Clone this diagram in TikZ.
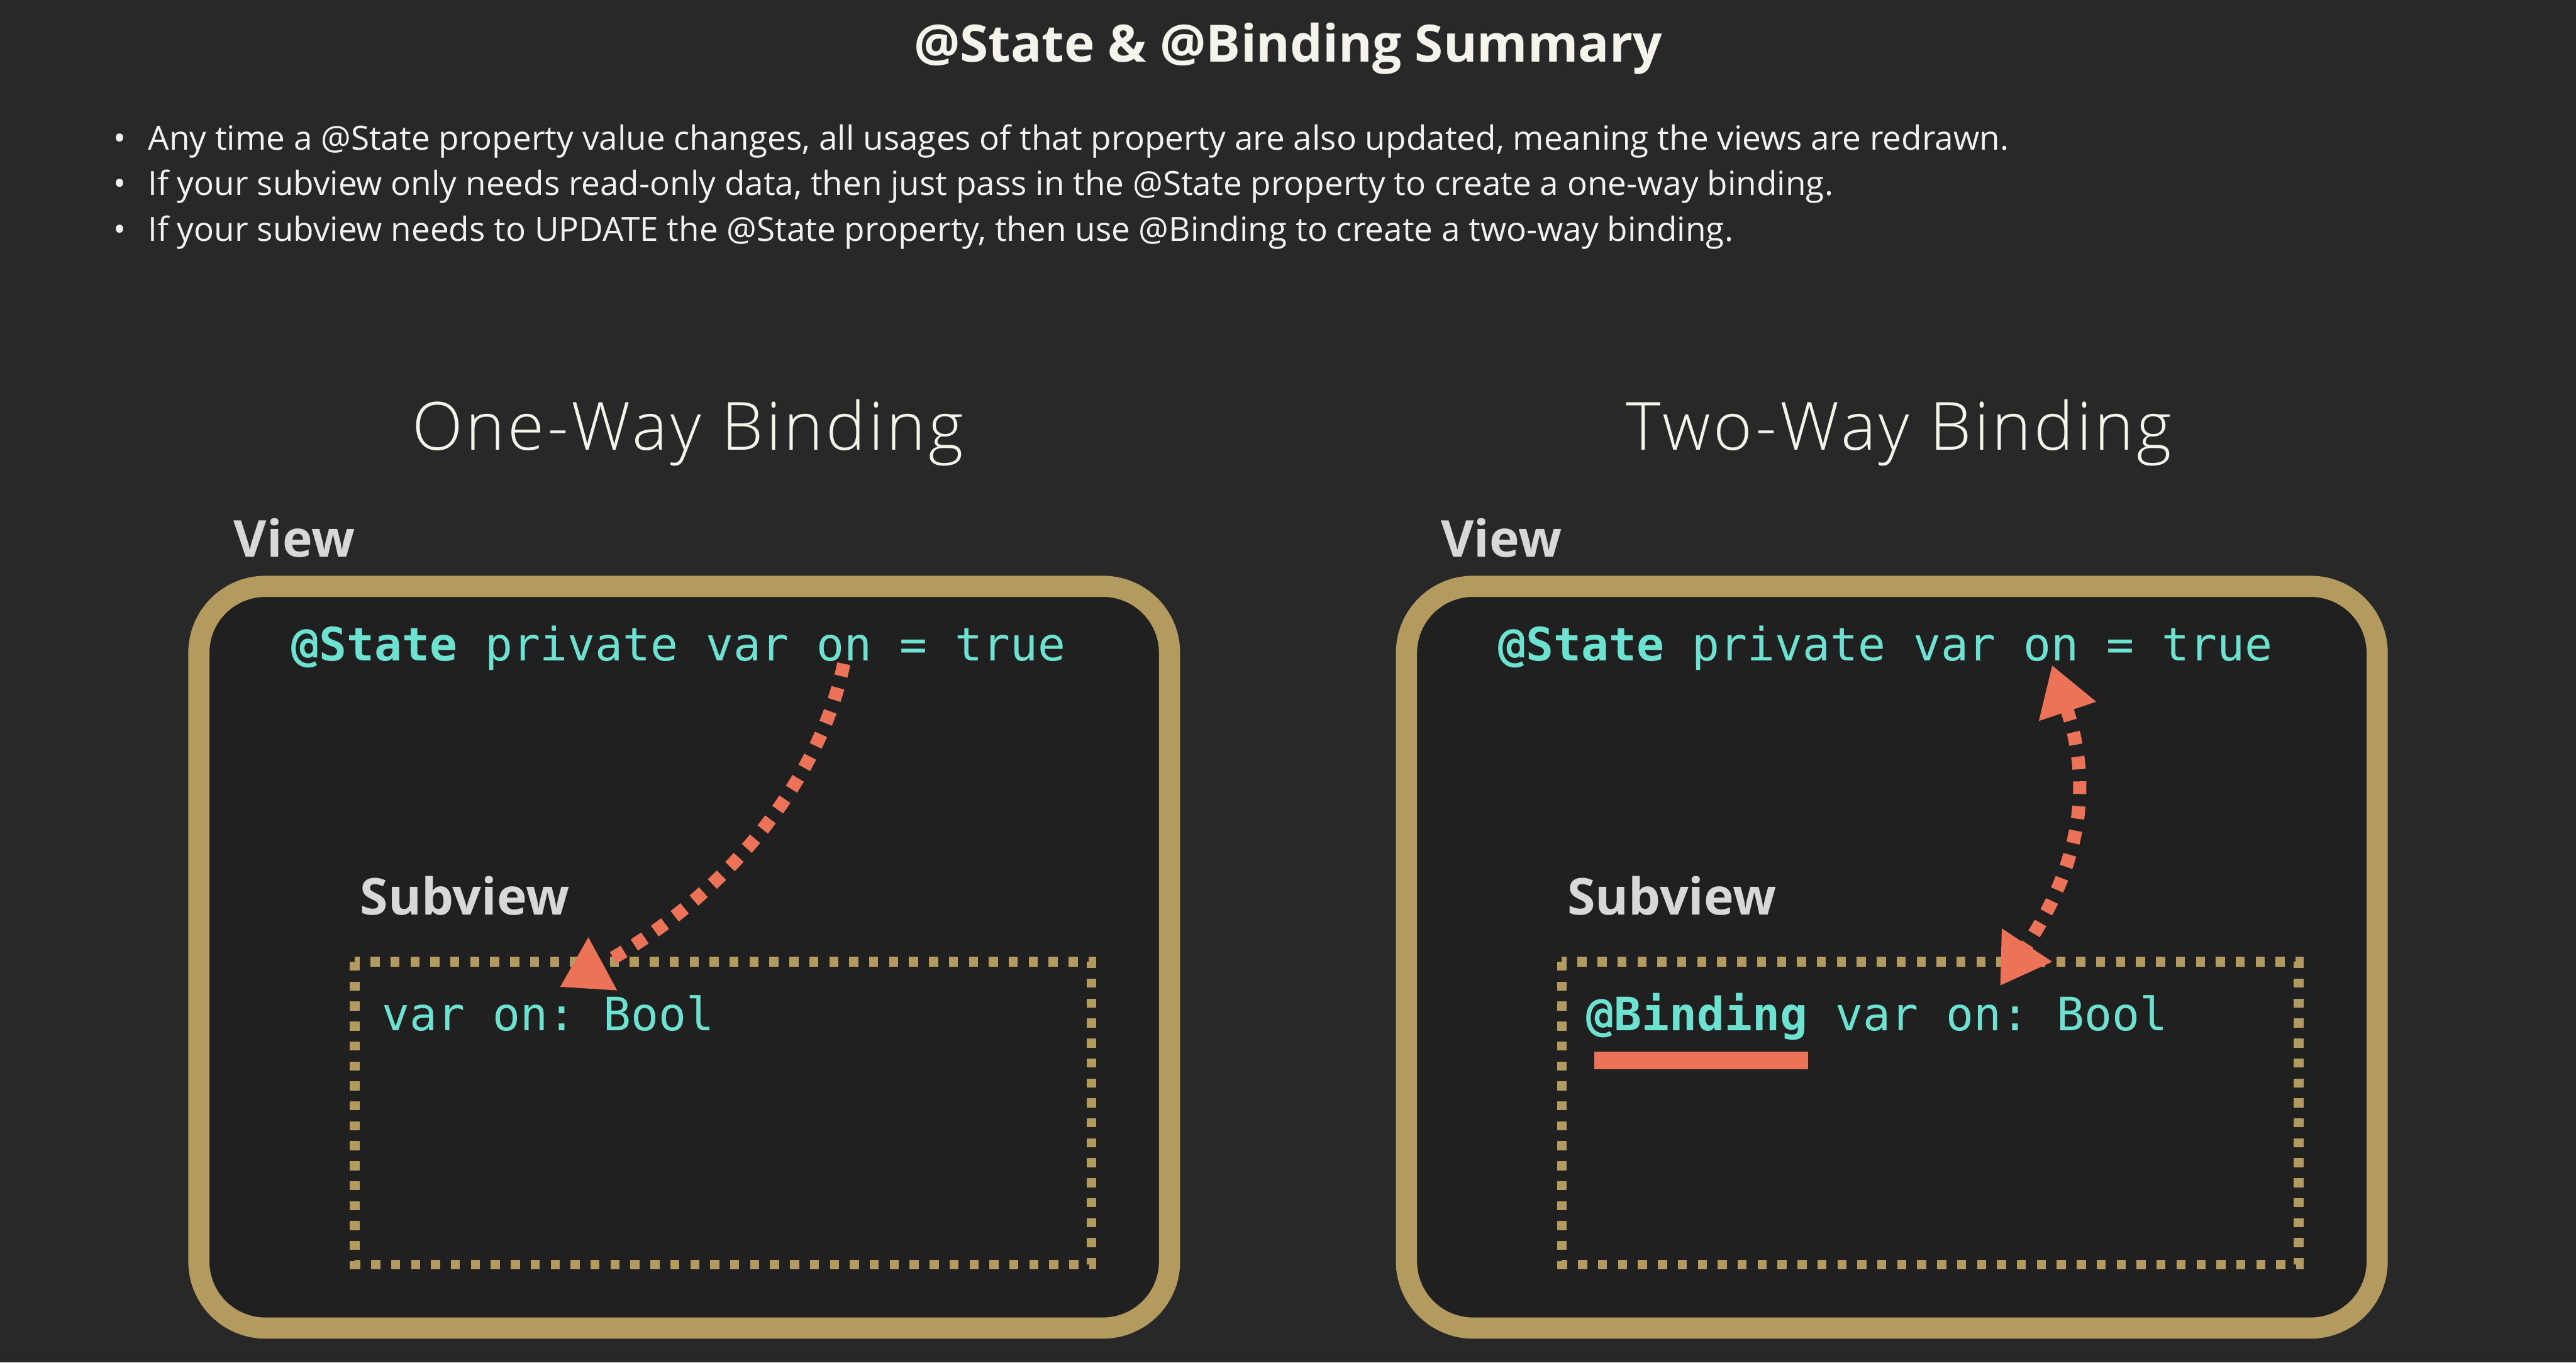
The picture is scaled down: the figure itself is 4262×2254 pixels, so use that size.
\documentclass[tikz,border=0pt]{standalone}
\usepackage{fontspec}
\setmainfont{Open Sans}
\newfontfamily\thinfont{Open Sans Light}[LetterSpace=4.4]
\setmonofont{DejaVu Sans Mono}
\usetikzlibrary{arrows.meta}
\definecolor{bg}{HTML}{282828}
\definecolor{inner}{HTML}{202020}
\definecolor{gold}{HTML}{B39A5E}
\definecolor{teal}{HTML}{6CE3D1}
\definecolor{coral}{HTML}{EC7357}
\definecolor{lbl}{HTML}{D8D8D8}
\definecolor{titlec}{HTML}{F4F4EC}
\definecolor{bodyc}{HTML}{F2F2F2}
\begin{document}
\begin{tikzpicture}[x=0.25pt,y=-0.25pt,
  every node/.style={inner sep=0pt, outer sep=0pt},
  titletxt/.style={anchor=base, text=titlec, font=\bfseries\fontsize{21.3}{26}\selectfont},
  bodytxt/.style={anchor=base west, text=bodyc, font=\fontsize{13.8}{16}\selectfont},
  headtxt/.style={anchor=base, text=titlec, font=\thinfont\fontsize{27.5}{32}\selectfont},
  labeltxt/.style={anchor=base west, text=lbl, font=\bfseries\fontsize{21}{25}\selectfont},
  codetxt/.style={anchor=base west, text=teal, font=\ttfamily\fontsize{19}{22}\selectfont},
  viewbox/.style={draw=gold, fill=inner, line width=8.75pt, rounded corners=27.5pt},
  subbox/.style={draw=gold, line width=4pt, dash pattern=on 3.75pt off 4.5pt},
  flow/.style={draw=coral, line width=5.5pt, dash pattern=on 5.25pt off 5pt},
  tip/.style={-{Triangle[length=20.25pt,width=23.5pt]}},
  twotip/.style={{Triangle[length=20.25pt,width=23.5pt]}-{Triangle[length=20.25pt,width=23.5pt]}}
]
\fill[bg] (0,0) rectangle (4262,2254);
\useasboundingbox (0,0) rectangle (4262,2254);

% title and bullets
\node[titletxt] (title) at (2131,103) {@State \& @Binding Summary};
\node[bodytxt, anchor=base] (b1) at (198,248) {•};
\node[bodytxt, anchor=base] (b2) at (198,323) {•};
\node[bodytxt, anchor=base] (b3) at (198,399) {•};
\node[bodytxt] (l1) at (245,248) {Any time a @State property value changes, all usages of that property are also updated, meaning the views are redrawn.};
\node[bodytxt] (l2) at (245,323) {If your subview only needs read-only data, then just pass in the @State property to create a one-way binding.};
\node[bodytxt] (l3) at (245,399) {If your subview needs to UPDATE the @State property, then use @Binding to create a two-way binding.};

% headings
\node[headtxt] (h1) at (1138,745) {One-Way Binding};
\node[headtxt] (h2) at (3142,745) {Two-Way Binding};

% left panel
\node[labeltxt] (view1) at (387,921) {View};
\draw[viewbox] (329,970) rectangle (1935,2197);
\node[codetxt] (state1) at (482,1093) {\textbf{@State} private var on = true};
\node[labeltxt] (sub1) at (596,1513) {Subview};
\draw[subbox] (587,1591) rectangle (1806,2092);
\node[codetxt] (var1) at (632,1705) {var on: Bool};

% right panel
\node[labeltxt] (view2) at (2384,921) {View};
\draw[viewbox] (2327,970) rectangle (3933,2197);
\node[codetxt] (state2) at (2479,1093) {\textbf{@State} private var on = true};
\node[labeltxt] (sub2) at (2593,1513) {Subview};
\draw[subbox] (2584,1591) rectangle (3803,2092);
\node[codetxt] (var2) at (2625,1705) {\textbf{@Binding} var on: Bool};
\fill[coral] (2638,1740) rectangle (2991,1769);

% arrows
\coordinate (a1s) at (1396,1098);
\coordinate (a1e) at (926,1633);
\draw[flow, tip] (a1s) .. controls (1355,1300) and (1190,1490) .. (a1e);

\coordinate (a2s) at (3395,1100);
\coordinate (a2e) at (3309,1631);
\draw[flow, twotip] (a2s) .. controls (3468,1318) and (3430,1448) .. (a2e);
\end{tikzpicture}
\end{document}
